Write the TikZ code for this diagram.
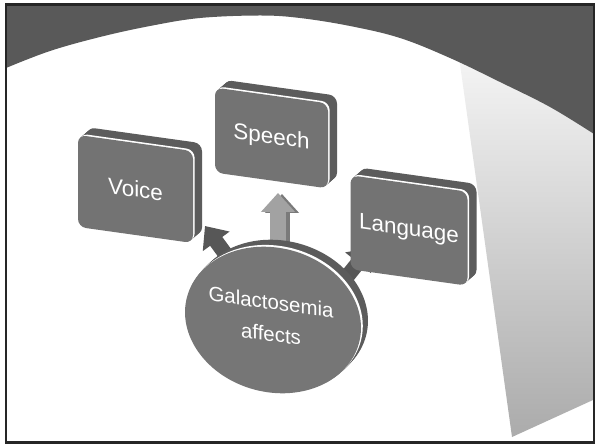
\documentclass[tikz,border=0pt]{standalone}
\usepackage{fontspec}
\setmainfont{Liberation Sans}
\usetikzlibrary{arrows.meta,shapes.geometric}
\definecolor{bandcol}{HTML}{595959}
\definecolor{framecol}{HTML}{262626}
\definecolor{facecol}{HTML}{737373}
\definecolor{sidecol}{HTML}{5C5C5C}
\definecolor{ellcol}{HTML}{767676}
\definecolor{arrlight}{HTML}{A2A2A2}
\definecolor{arrside}{HTML}{7A7A7A}
\definecolor{arrdark}{HTML}{575757}
\definecolor{wedgetop}{HTML}{FAFAFA}
\definecolor{wedgemid}{HTML}{D8D8D8}
\definecolor{wedgebot}{HTML}{ABABAB}
\tikzset{
  boxface/.style={fill=facecol, rounded corners=8bp, inner sep=0pt, text=white,
    font=\fontsize{22.5}{27}\selectfont, transform shape},
  boxside/.style={fill=sidecol, rounded corners=8bp},
  boxhl/.style={fill=white, rounded corners=8bp},
  ellface/.style={ellipse, fill=ellcol, inner sep=0pt, minimum width=178bp, minimum height=144bp, rotate=-15},
  elltext/.style={text=white, align=center, font=\fontsize{20.5}{32}\selectfont, yslant=-0.14},
  lightarrow/.style={arrlight, line width=16bp, -{Triangle[length=19bp,width=33bp]}},
  sidearrow/.style={arrside, line width=16bp, -{Triangle[length=19bp,width=33bp]}},
  darkarrow/.style={arrdark, line width=15bp, -{Triangle[length=19bp,width=32bp]}},
  hlarrow/.style={white, line width=15bp, -{Triangle[length=19bp,width=32bp]}},
}
\newcommand\tdbox[6]{%
  \begin{scope}[shift={(#2,#3)}, yslant=-0.14]
    \foreach \k in {1,...,9}{\fill[boxside] ({-#4/2+\k},{-#5/2-\k}) rectangle ({#4/2+\k},{#5/2-\k});}
    \fill[boxhl] ({-#4/2+1.6},{-#5/2-1.6}) rectangle ({#4/2+1.6},{#5/2-1.6});
    \node[boxface, minimum width=#4bp, minimum height=#5bp] (#1) at (0,0) {#6};
  \end{scope}}
\begin{document}
\begin{tikzpicture}[x=1bp,y=-1bp]
\useasboundingbox (0,0) rectangle (595,445);
\fill[white] (0,0) rectangle (595,445);
% gradient wedge on the right
\shade[top color=wedgetop, middle color=wedgemid, bottom color=wedgebot]
  (455,28) -- (512,437) -- (593,400) -- (593,28) -- cycle;
% dark band at the top
\fill[bandcol] (6,5) -- (594,5) -- plot[smooth, tension=0.6] coordinates
  {(594,134) (550,107) (500,82) (450,58) (400,38) (350,26) (300,18) (260,15.5) (200,18) (150,26) (100,37) (50,51) (6,68)} -- cycle;
% arrows
\coordinate (sA) at (278,266);
\coordinate (sB) at (278,193);
\draw[sidearrow] ([shift={(4,1)}]sA) -- ([shift={(4,1)}]sB);
\draw[lightarrow] (sA) -- (sB);
\coordinate (vA) at (240,274);
\coordinate (vB) at (205,226);
\draw[hlarrow] ([shift={(1.8,-1.2)}]vA) -- ([shift={(1.8,-1.2)}]vB);
\draw[darkarrow] (vA) -- (vB);
\coordinate (lA) at (341,284);
\coordinate (lB) at (370,248);
\draw[hlarrow] ([shift={(-1.6,-1.6)}]lA) -- ([shift={(-1.6,-1.6)}]lB);
\draw[darkarrow] (lA) -- (lB);
% ellipse
\foreach \k in {1,...,7}{\fill[sidecol, rotate around={-15:({273+\k},{320-\k})}] ({273+\k},{320-\k}) ellipse [x radius=89, y radius=72];}
\fill[white, rotate around={-15:(274.8,318.2)}] (274.8,318.2) ellipse [x radius=89, y radius=72];
\node[ellface] (ell) at (273,320) {};
\node[elltext] (elltext) at (271,318) {Galactosemia\\affects};
% boxes
\tdbox{voice}{135.5}{189}{115}{92}{Voice}
\tdbox{speech}{271.5}{138}{113}{85}{Speech}
\tdbox{language}{409}{230.5}{117}{94}{Language}
% frame
\draw[framecol, line width=2.2bp] (6,4.5) rectangle (594,442.5);
\end{tikzpicture}
\end{document}
